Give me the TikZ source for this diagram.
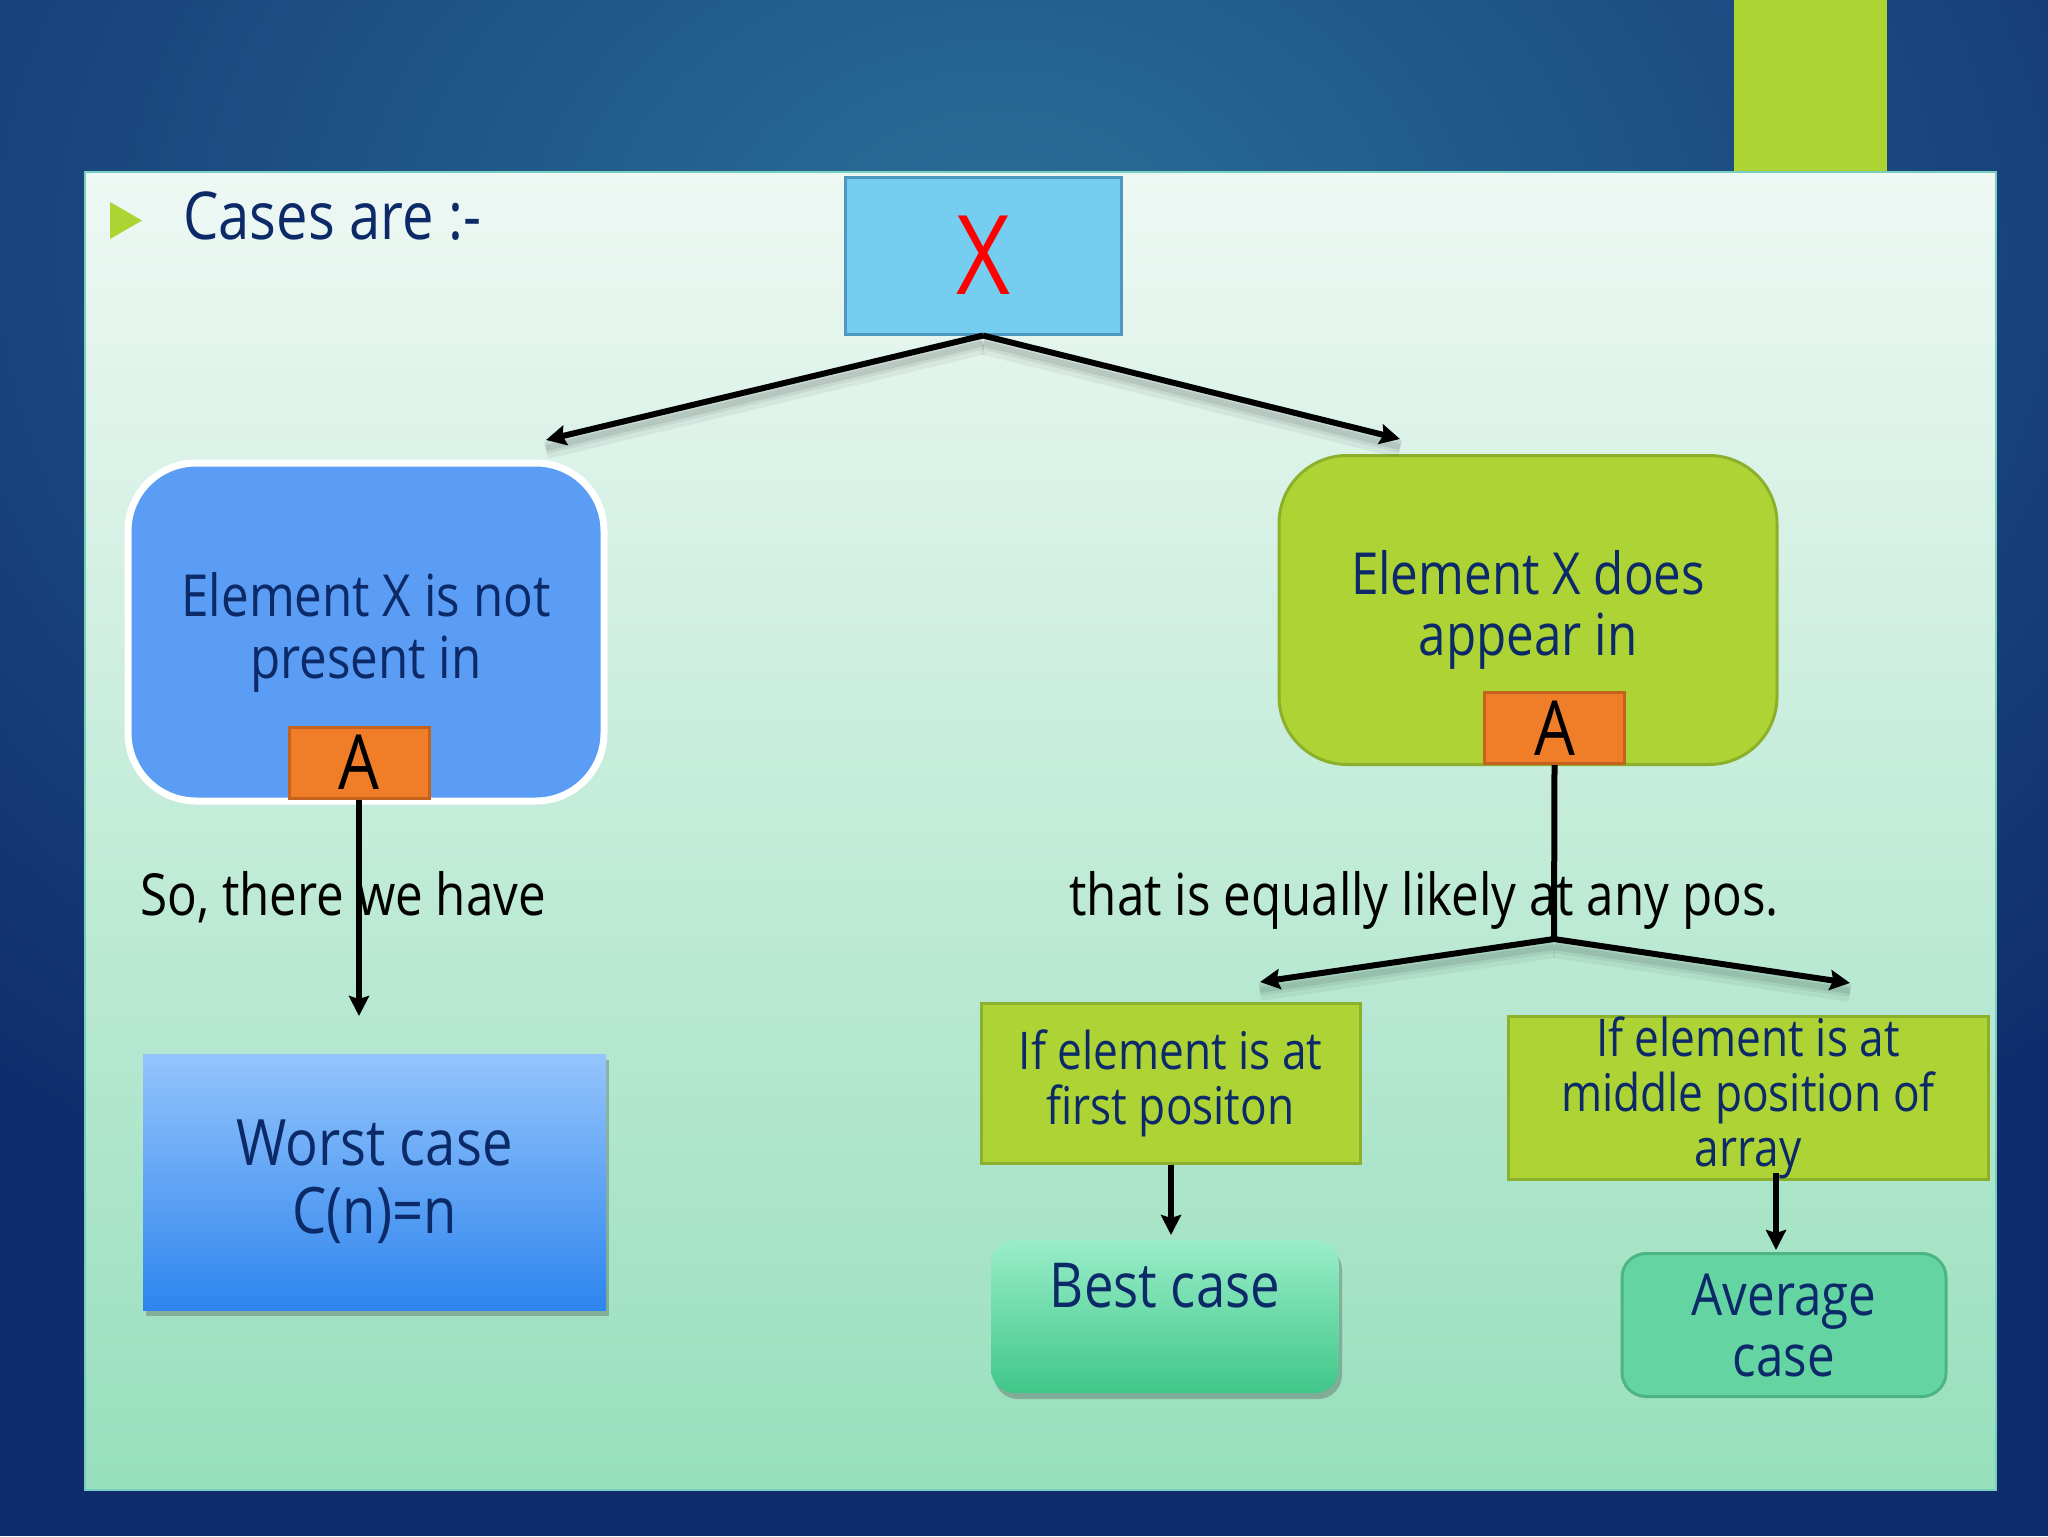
\documentclass[tikz,border=0pt]{standalone}
\usepackage{fontspec}
\newfontfamily\slide[FakeStretch=0.85]{Open Sans}
\usetikzlibrary{arrows.meta,shadows}
\definecolor{navy}{HTML}{0F2D6C}
\definecolor{bgmid}{HTML}{2A6F98}
\definecolor{txt}{HTML}{0C2A68}
\definecolor{ptop}{HTML}{EEF8F4}
\definecolor{pbot}{HTML}{97DFBD}
\definecolor{pedge}{HTML}{78CFBE}
\definecolor{limeb}{HTML}{ACD433}
\definecolor{lime}{HTML}{ADD335}
\definecolor{limeedge}{HTML}{8CB02B}
\definecolor{lblue}{HTML}{5B9DF4}
\definecolor{xfill}{HTML}{75CDEF}
\definecolor{xedge}{HTML}{4D97C2}
\definecolor{orng}{HTML}{F07D28}
\definecolor{orngedge}{HTML}{C4621E}
\definecolor{wtop}{HTML}{94C4FC}
\definecolor{wbot}{HTML}{2E85EE}
\definecolor{btop}{HTML}{99EDC9}
\definecolor{bbot}{HTML}{40C788}
\definecolor{avg}{HTML}{64D5A2}
\definecolor{avgedge}{HTML}{4DB484}
\begin{document}
\begin{tikzpicture}[x=0.5pt,y=-0.5pt,
  arr/.style={line width=3pt,-{Stealth[length=10pt,width=10pt,inset=1.5pt]}},
  conn/.style={line width=3pt},
  abox/.style={draw=orngedge,line width=1.5pt,fill=orng,minimum width=70pt,minimum height=35.5pt,inner sep=0pt,text=black,font=\slide\fontsize{38}{40}\selectfont},
  gbox/.style={draw=limeedge,line width=1.5pt,fill=lime,inner sep=0pt,align=center,text=txt},
  plain/.style={inner sep=0pt,anchor=base west,font=\slide\fontsize{29}{31}\selectfont,text=black},
  bshadow/.style={drop shadow={shadow xshift=1.5pt,shadow yshift=-3pt,opacity=0.35,fill=black!70}}
]
\useasboundingbox (0,0) rectangle (2048,1536);
% background
\fill[navy] (0,0) rectangle (2048,1536);
\begin{scope}
\clip (0,0) rectangle (2048,1536);
\shade[inner color=bgmid,outer color=navy] (1000,250) ellipse (1500 and 1100);
\end{scope}
\fill[limeb] (1734,0) rectangle (1887,172);
% panel
\shade[top color=ptop,bottom color=pbot,draw=pedge,line width=1pt] (85,172) rectangle (1996,1490);
% bullet
\fill[limeb] (110,202) -- (142,220.5) -- (110,239) -- cycle;
\node[inner sep=0pt,anchor=base west,font=\slide\fontsize{33}{36}\selectfont,text=txt] (cases) at (183,239) {Cases are :-};
% X box
\node[draw=xedge,line width=1.5pt,fill=xfill,minimum width=138pt,minimum height=78.5pt,inner sep=0pt,text=red,font=\slide\fontsize{55}{58}\selectfont] (X) at (983,255.5) {X};
% left box
\node[draw=white,line width=3.5pt,fill=lblue,rounded corners=34pt,minimum width=238pt,minimum height=169pt,inner sep=0pt,align=center,text=txt,font=\slide\fontsize{29}{31}\selectfont] (L) at (366,632) {Element X is not\\present in};
\node[abox] (LA) at (359,762.5) {A};
% right box
\node[draw=limeedge,line width=1.5pt,fill=lime,rounded corners=34pt,minimum width=249pt,minimum height=154.5pt,inner sep=0pt,align=center,text=txt,font=\slide\fontsize{29}{30.5}\selectfont] (R) at (1528,610) {Element X does\\appear in};
\node[abox] (RA) at (1554.5,728) {A};
% plain texts
\node[plain] (sothere) at (140,915) {So, there we have};
\node[plain] (equally) at (1069,915) {that is equally likely at any pos.};
% worst case
\node[top color=wtop,bottom color=wbot,bshadow,minimum width=231.5pt,minimum height=128pt,inner sep=0pt,align=center,text=txt,font=\slide\fontsize{32}{34}\selectfont] (W) at (374.5,1182) {Worst case\\C(n)=n};
% lower right boxes
\node[gbox,minimum width=189.5pt,minimum height=80pt,font=\slide\fontsize{26}{27.5}\selectfont] (F) at (1170.5,1083) {If element is at\\first positon};
\node[gbox,minimum width=240pt,minimum height=81.5pt,font=\slide\fontsize{26}{27.5}\selectfont] (M) at (1748,1098) {If element is at\\middle position of\\array};
\node[top color=btop,bottom color=bbot,bshadow,rounded corners=12pt,minimum width=174pt,inner sep=0pt,text height=33.5pt,text depth=43pt,text=txt,font=\slide\fontsize{31}{33}\selectfont] (B) at (1165,1316.5) {Best case};
\node[draw=avgedge,line width=1.5pt,fill=avg,rounded corners=12pt,minimum width=162pt,minimum height=71.5pt,inner sep=0pt,align=center,text=txt,font=\slide\fontsize{29}{30.5}\selectfont] (A) at (1784,1325) {Average\\case};
% connector coordinates
\coordinate (tipL) at (546,440);
\coordinate (tipR) at (1400,439);
\coordinate (tipW) at (359,1016);
\coordinate (junc) at (1554,939);
\coordinate (tipF) at (1260,982);
\coordinate (tipM) at (1850,983);
\coordinate (tipB) at (1171,1235);
\coordinate (tipA) at (1776,1250);
% connector shadows (soft)
\foreach \w/\o/\s in {9pt/0.05/-5pt,6pt/0.06/-4pt,3pt/0.08/-4pt}{
\begin{scope}[line width=\w,draw=black,opacity=\o,transform canvas={yshift=\s}]
\draw (X.south) -- (tipL);
\draw (X.south) -- (tipR);
\draw (junc) -- (tipF);
\draw (junc) -- (tipM);
\end{scope}}
% connectors
\draw[arr] (X.south) -- (tipL);
\draw[arr] (X.south) -- (tipR);
\draw[arr] (LA.south) -- (tipW);
\draw[conn] (RA.south) -- (junc);
\draw[arr] (junc) -- (tipF);
\draw[arr] (junc) -- (tipM);
\draw[arr] (F.south -| tipB) -- (tipB);
\draw[arr] ([yshift=4pt]M.south -| tipA) -- (tipA);
\end{tikzpicture}
\end{document}
